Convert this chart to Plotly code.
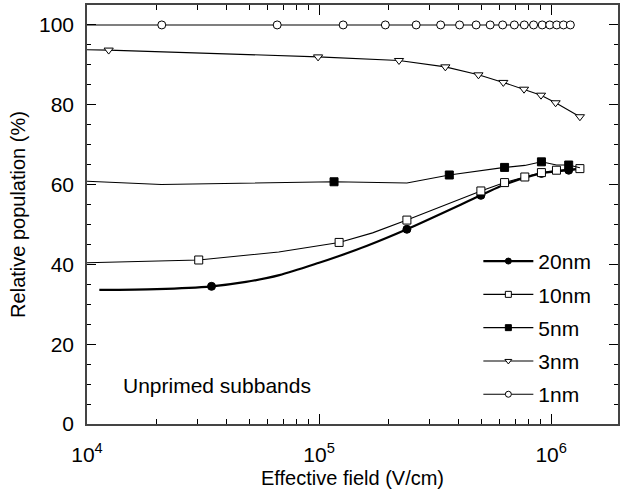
import plotly.graph_objects as go

# ---------------- data ----------------
names = ["20nm", "10nm", "5nm", "3nm", "1nm"]

# 20 nm (thick line, filled circles)
x20_line = [1.13e4, 2.0e4, 3.44e4, 4.84e4, 6.74e4, 1.0e5, 1.22e5, 1.6e5, 2.39e5, 4.98e5, 6.3e5, 9.08e5, 1.19e6, 1.33e6]
y20_line = [33.6, 33.8, 34.5, 35.6, 37.3, 40.4, 42.1, 44.6, 48.8, 57.3, 60.0, 62.8, 63.6, 64.0]
x20_mark = [3.44e4, 2.39e5, 4.98e5, 9.08e5, 1.19e6]
y20_mark = [34.5, 48.8, 57.3, 62.8, 63.6]

# 10 nm (open squares)
x10_line = [1.0e4, 3.03e4, 6.7e4, 1.22e5, 1.7e5, 2.39e5, 4.98e5, 6.3e5, 7.7e5, 9.08e5, 1.054e6, 1.33e6]
y10_line = [40.4, 41.1, 43.1, 45.5, 47.9, 51.1, 58.4, 60.5, 61.9, 63.0, 63.6, 64.0]
x10_mark = [3.03e4, 1.22e5, 2.39e5, 4.98e5, 6.3e5, 7.7e5, 9.08e5, 1.054e6, 1.33e6]
y10_mark = [41.1, 45.5, 51.1, 58.4, 60.5, 61.9, 63.0, 63.6, 64.0]

# 5 nm (filled squares)
x5_line = [1.0e4, 2.09e4, 1.16e5, 2.39e5, 3.64e5, 6.3e5, 7.7e5, 9.08e5, 1.054e6, 1.19e6, 1.33e6]
y5_line = [60.85, 60.0, 60.7, 60.4, 62.4, 64.3, 64.8, 65.7, 64.9, 64.9, 64.2]
x5_mark = [1.16e5, 3.64e5, 6.3e5, 9.08e5, 1.19e6]
y5_mark = [60.7, 62.4, 64.3, 65.7, 64.9]

# 3 nm (open down-triangles)
x3_line = [1.0e4, 1.24e4, 9.9e4, 2.21e5, 3.5e5, 4.86e5, 6.22e5, 7.64e5, 9.04e5, 1.045e6, 1.33e6]
y3_line = [93.8, 93.7, 92.0, 91.1, 89.5, 87.5, 85.6, 83.9, 82.4, 80.5, 77.0]
x3_mark = x3_line[1:]
y3_mark = y3_line[1:]

# 1 nm (open circles)
x1_line = [1.0e4, 2.1e4, 6.6e4, 1.27e5, 1.93e5, 2.62e5, 3.34e5, 4.03e5, 4.75e5, 5.46e5,
           6.18e5, 6.94e5, 7.66e5, 8.4e5, 9.15e5, 9.86e5, 1.057e6, 1.13e6, 1.21e6]
y1_line = [100.0] * len(x1_line)
x1_mark = x1_line[1:]
y1_mark = y1_line[1:]

x_tickvals = [1e4, 1e5, 1e6]
x_ticktext = ["10<sup>4</sup>", "10<sup>5</sup>", "10<sup>6</sup>"]
y_tickvals = [0, 20, 40, 60, 80, 100]

series = [
    (names[0], x20_line, y20_line, x20_mark, y20_mark, "circle", "black", 2.2, "spline"),
    (names[1], x10_line, y10_line, x10_mark, y10_mark, "square", "white", 1.1, "linear"),
    (names[2], x5_line, y5_line, x5_mark, y5_mark, "square", "black", 1.1, "linear"),
    (names[3], x3_line, y3_line, x3_mark, y3_mark, "triangle-down", "white", 1.1, "linear"),
    (names[4], x1_line, y1_line, x1_mark, y1_mark, "circle", "white", 1.1, "linear"),
]

fig = go.Figure()
for name, xl, yl, xm, ym, sym, fill, lw, shape in series:
    fig.add_trace(go.Scatter(x=xl, y=yl, mode="lines",
                             line=dict(color="black", width=lw, shape=shape, smoothing=0.8),
                             showlegend=False, hoverinfo="skip"))
    fig.add_trace(go.Scatter(x=xm, y=ym, mode="markers", showlegend=False,
                             marker=dict(symbol=sym, size=8, color=fill,
                                         line=dict(color="black", width=1))))
    fig.add_trace(go.Scatter(x=[None], y=[None], mode="lines+markers", name=name,
                             legendgroup=name,
                             line=dict(color="black", width=lw),
                             marker=dict(symbol=sym, size=6, color=fill,
                                         line=dict(color="black", width=1))))

font_family = "Liberation Sans, Arial, Helvetica, sans-serif"

fig.update_layout(
    width=621, height=499,
    margin=dict(l=87, r=1, t=5, b=75),
    paper_bgcolor="white", plot_bgcolor="white",
    font=dict(family=font_family, size=21, color="black"),
    showlegend=True,
    legend=dict(x=0.737, y=0.437, xanchor="left", yanchor="top",
                bgcolor="rgba(0,0,0,0)", font=dict(size=21),
                itemwidth=50, tracegroupgap=3, traceorder="grouped"),
    annotations=[dict(text="Unprimed subbands", xref="paper", yref="paper",
                      x=0.064, y=0.093, xanchor="left", yanchor="middle",
                      showarrow=False, font=dict(size=21))],
)

fig.update_xaxes(
    type="log", range=[4, 6.288],
    tickvals=x_tickvals, ticktext=x_ticktext,
    ticks="inside", ticklen=10, tickwidth=1.2, tickcolor="black",
    minor=dict(ticks="inside", ticklen=5, tickwidth=1, tickcolor="black",
               tickvals=[2e4, 3e4, 4e4, 5e4, 6e4, 7e4, 8e4, 9e4,
                         2e5, 3e5, 4e5, 5e5, 6e5, 7e5, 8e5, 9e5]),
    showline=True, linecolor="#444", linewidth=1.5, mirror="ticks",
    showgrid=False, zeroline=False,
    title=dict(text="Effective field (V/cm)", font=dict(size=20), standoff=6),
    tickfont=dict(size=21), ticklabelstandoff=11,
)
fig.update_yaxes(
    range=[0, 105], tickvals=y_tickvals,
    ticks="inside", ticklen=9, tickwidth=1.2, tickcolor="black",
    minor=dict(ticks="inside", ticklen=4, tickwidth=1, tickcolor="black", dtick=5),
    showline=True, linecolor="#444", linewidth=1.5, mirror="ticks",
    showgrid=False, zeroline=False,
    title=dict(text="Relative population (%)", font=dict(size=20), standoff=8),
    tickfont=dict(size=21), ticklabelstandoff=7,
)

fig.write_html("out.html")
